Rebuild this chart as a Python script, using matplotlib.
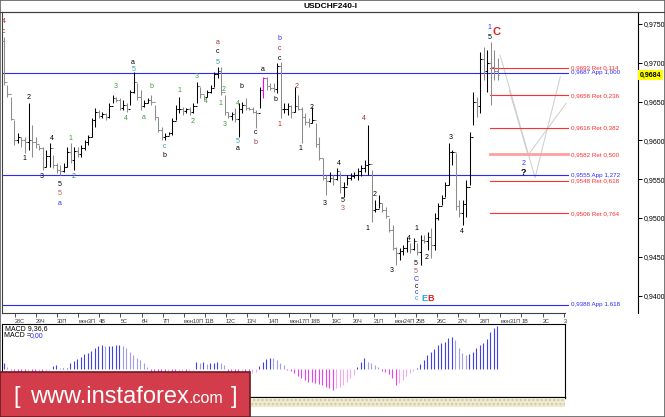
import matplotlib
matplotlib.use('Agg')
import matplotlib.pyplot as plt
from matplotlib.patches import Rectangle
from matplotlib.lines import Line2D
from matplotlib.transforms import blended_transform_factory

plt.rcParams['font.family'] = ['Liberation Sans', 'DejaVu Sans']

# ---- price bars (4h) ----
highs = [
    .9733, .9671, .9656, .9626, .9610, .9604, .9604, .9648, .9620, .9604,
    .9594, .9591, .9588, .9597, .9581, .9571, .9568, .9571, .9591, .9597,
    .9591, .9591, .9594, .9601, .9607, .9629, .9642, .9639, .9637, .9635,
    .9648, .9659, .9656, .9655, .9652, .9648, .9665, .9688, .9674, .9665,
    .9652, .9655, .9659, .9646, .9630, .9617, .9610, .9611, .9629, .9646,
    .9656, .9643, .9642, .9643, .9648, .9675, .9669, .9659, .9665, .9671,
    .9688, .9695, .9695, .9659, .9637, .9637, .9642, .9648, .9650, .9655,
    .9643, .9643, .9639, .9669, .9682, .9682, .9674, .9674, .9700, .9701,
    .9648, .9648, .9646, .9669, .9659, .9643, .9635, .9629, .9643, .9622,
    .9604, .9577, .9555, .9559, .9555, .9564, .9559, .9546, .9555, .9558,
    .9559, .9564, .9568, .9575, .9620, .9562, .9523, .9530, .9519, .9514,
    .9500, .9491, .9463, .9461, .9465, .9476, .9468, .9474, .9468, .9478,
    .9478, .9482, .9487, .9506, .9519, .9530, .9546, .9597, .9588, .9584,
    .9523, .9523, .9549, .9611, .9662, .9656, .9714, .9720, .9716, .9727,
    .9716, .9706]
lows = [
    .9671, .9656, .9626, .9594, .9597, .9591, .9584, .9588, .9579, .9590,
    .9588, .9562, .9566, .9566, .9564, .9558, .9555, .9559, .9566, .9571,
    .9562, .9579, .9579, .9588, .9594, .9604, .9617, .9629, .9629, .9626,
    .9629, .9648, .9650, .9639, .9639, .9637, .9646, .9661, .9652, .9639,
    .9643, .9648, .9646, .9626, .9611, .9601, .9601, .9607, .9607, .9626,
    .9635, .9633, .9635, .9633, .9635, .9648, .9655, .9652, .9656, .9661,
    .9669, .9680, .9659, .9633, .9629, .9626, .9624, .9604, .9635, .9639,
    .9639, .9635, .9616, .9642, .9655, .9665, .9665, .9662, .9661, .9629,
    .9635, .9633, .9629, .9637, .9639, .9597, .9620, .9617, .9622, .9591,
    .9575, .9549, .9530, .9546, .9543, .9549, .9532, .9527, .9543, .9549,
    .9552, .9549, .9554, .9559, .9555, .9495, .9508, .9513, .9508, .9500,
    .9482, .9459, .9439, .9446, .9452, .9456, .9455, .9459, .9452, .9440,
    .9468, .9459, .9448, .9459, .9497, .9517, .9527, .9543, .9568, .9510,
    .9501, .9491, .9501, .9543, .9620, .9630, .9635, .9678, .9662, .9646,
    .9678, .9678]
closes = [
    .9675, .9660, .9628, .9600, .9605, .9600, .9598, .9600, .9598, .9595,
    .9590, .9566, .9580, .9590, .9568, .9562, .9560, .9566, .9585, .9575,
    .9586, .9583, .9590, .9598, .9604, .9626, .9636, .9632, .9634, .9630,
    .9645, .9655, .9652, .9642, .9646, .9640, .9662, .9675, .9656, .9645,
    .9648, .9652, .9650, .9630, .9614, .9604, .9606, .9609, .9625, .9640,
    .9640, .9638, .9640, .9636, .9645, .9670, .9660, .9656, .9662, .9668,
    .9685, .9690, .9662, .9636, .9632, .9634, .9628, .9640, .9646, .9642,
    .9641, .9637, .9635, .9665, .9680, .9670, .9668, .9666, .9696, .9640,
    .9640, .9644, .9636, .9645, .9641, .9630, .9624, .9622, .9626, .9595,
    .9578, .9552, .9548, .9552, .9550, .9560, .9540, .9540, .9552, .9554,
    .9556, .9560, .9565, .9568, .9570, .9510, .9512, .9520, .9510, .9503,
    .9485, .9462, .9455, .9458, .9462, .9470, .9460, .9470, .9456, .9472,
    .9470, .9475, .9465, .9500, .9515, .9526, .9542, .9585, .9585, .9515,
    .9506, .9518, .9540, .9605, .9650, .9645, .9705, .9690, .9700, .9695,
    .9690, .9684]
first_open = 0.9728
marked_bar = 74          # the bar drawn in magenta
last_price = 0.9684

# MACD(9,36,6) histogram, in 1e-5 units
macd_hist = [
    6, 2, -1, -2, -2.5, -2.5, -3, -2.5, -2.5, -3, -2.5, -2.5, -2, -1,
    3.3, 4.3, 1, 1, 1.5, 6, 8.7, 10.3, 12.7, 15.3, 16.7, 18.7, 21, 23.7,
    24.3, 23.7, 23.7, 23.7, 24.3, 24.3, 23.7, 21, 17.7, 14.3, 11, 9.3, 6, 2.7,
    -1.5, -2, -2.5, -3, -3, -2.5, -3, -3, -2.5, -2, -2.5, -2, -1,
    7, 6.7, 7.7, 5.3, 6, 6.7, 7, 6, 4.3,
    -2, -3, -3.5, -4, -3.5, -4, -10.7, -4, -3,
    3.3, 7.7, 10.3, 11.7, 11, 9.3, 6, 4.3,
    -1, -2, -4, -7, -9, -10.7, -12.3, -13, -14, -14.7, -16, -17.3, -19,
    -20.7, -19, -17.3, -15.7, -12.3, -9, -5.7,
    2.7, 7.7, 11, 7.7, 6, 4.3, 2,
    -1.3, -2.3, -5, -9, -15.7, -14, -11, -7, -4, -2,
    1, 5, 9.3, 14.3, 17, 20, 24.3, 26, 27.7, 31, 32, 29.3, 21, 16, 14.3,
    15, 17.7, 21, 24.3, 26, 30, 37.7, 41, 43.7]

date_labels = ['28С', '29Ч', '30П', 'мон3П', '4В', '5С', '6Ч', '7П', 'мон10П',
               '11В', '12С', '13Ч', '14П', 'мон17П', '18В', '19С', '20Ч', '21П',
               'мон24П', '25В', '26С', '27Ч', '28П', 'мон31П', '1В', '2С', '3']
price_ticks = [0.9400, 0.9450, 0.9500, 0.9550, 0.9600, 0.9650, 0.9700, 0.9750]

app_levels = [0.9687, 0.9555, 0.9388]
app_names = ['App 1,000', 'App 1,272', 'App 1.618']
ret_levels = [0.9693, 0.9658, 0.9616, 0.9582, 0.9548, 0.9506]
ret_names = ['Ret 0,114', 'Ret 0,236', 'Ret 0,382', 'Ret 0,500', 'Ret 0,618', 'Ret 0,764']

# projected paths (light gray V shapes)
proj_a_x = [141.7, 151.7, 158.9]
proj_a_y = [0.9710, 0.9552, 0.9682]
proj_b_x = [144.3, 149.7, 160.6]
proj_b_y = [0.9665, 0.9581, 0.9648]

K, G, T, DR, BR, BL, R, CY, GR = ('#000000', '#3c9a3c', '#2aa0a0', '#a03232',
                                  '#b45a46', '#3030ff', '#e02020', '#20a8e0', '#505050')
# (bar index, price, text, colour)
wave_labels = [
    (0, .9753, '4', DR), (0, .9741, 'c', GR),
    (6.9, .9655, '2', K), (5.8, .9577, '1', K), (10.9, .9553, '3', K), (13.8, .9603, '4', K),
    (15.8, .9543, '5', K), (15.8, .9532, '5', BR), (15.8, .9519, 'a', BL),
    (18.9, .9603, '1', G), (20, .9553, '2', G),
    (31.9, .9669, '3', G), (34.9, .9628, '4', G), (36.9, .9701, 'a', K), (36.9, .9692, '5', T),
    (40, .9630, 'a', G), (42, .9669, 'b', G),
    (45.8, .9592, 'c', T), (45.8, .9580, 'b', K),
    (50, .9664, '1', G), (53.8, .9624, '2', G), (54.9, .9682, '3', G), (57.7, .9650, '4', G),
    (60.9, .9726, 'a', DR), (60.9, .9714, 'c', K), (60.9, .9701, '5', T),
    (62.8, .9666, '2', G), (61.9, .9648, '1', G), (62.9, .9620, '3', G),
    (66.8, .9648, '4', G), (66.8, .9599, '5', T), (66.8, .9590, 'a', K),
    (67.9, .9669, 'b', K),
    (71.7, .9610, 'c', K), (71.7, .9597, 'b', DR),
    (73.8, .9692, 'a', K), (77.6, .9653, 'b', K),
    (78.7, .9731, 'b', BL), (78.7, .9719, 'c', DR), (78.7, .9706, 'c', K),
    (78.7, .9621, '1', R), (83.6, .9669, '2', DR),
    (84.8, .9589, '1', K), (87.8, .9643, '2', K), (91.7, .9519, '3', K),
    (95.7, .9570, '4', K), (96.8, .9523, '5', K), (96.8, .9512, '3', BR),
    (102.7, .9628, '4', DR),
    (103.8, .9487, '1', K), (105.8, .9530, '2', K), (110.8, .9432, '3', K),
    (115.7, .9474, '4', K), (117.7, .9487, '1', K),
    (117.7, .9441, '5', K), (117.7, .9431, '5', BR), (117.7, .9421, 'C', BL),
    (117.7, .9412, 'c', K), (117.7, .9404, 'c', BL), (117.7, .9396, 'c', CY),
    (120.8, .9449, '2', K), (127.7, .9604, '3', K), (130.9, .9482, '4', K),
    (138.7, .9746, '1', BL), (138.7, .9732, '5', K),
    (148.4, .9570, '2', BL),
]
big_labels = [(120.0, .9396, 'E', CY, 6.5), (122.0, .9396, 'B', R, 6.5),
              (140.8, .9740, 'C', R, 8), (148.4, .9559, '?', K, 6.5)]

W, H = 665, 417


def fx(px):
    return px / W


def fy(py):
    return 1 - py / H


fig = plt.figure(figsize=(W / 100, H / 100), dpi=100)
fig.patch.set_facecolor('white')

# ---- main price panel ----
ax = fig.add_axes([fx(2), fy(312.7), fx(636), 300.7 / H])
ax.set_xlim(-0.57, 181.1)
ax.set_ylim(0.93780, 0.97655)

n = len(closes)
idx = list(range(n))
opens = [first_open] + closes[:-1]
cols = ['#000000' if c >= o else '#8c8c8c' for o, c in zip(opens, closes)]
cols[marked_bar] = '#ff00ff'
ax.vlines(idx, lows, highs, colors=cols, lw=0.75, zorder=3)
ax.hlines(opens, [i - 0.5 for i in idx], idx, colors=cols, lw=0.75, zorder=3)
ax.hlines(closes, idx, [i + 0.5 for i in idx], colors=cols, lw=0.75, zorder=3)

x_end = 161.1
x_ret = 138.9
for lvl, name in zip(app_levels, app_names):
    ax.plot([-0.57, x_end], [lvl, lvl], color='#2a2aff', lw=0.8, zorder=2)
    ax.text(x_end + 1.0, lvl, f'{lvl:.4f}'.replace('.', ',') + ' ' + name,
            color='#2a2aff', fontsize=4.5, va='center')
for lvl, name in zip(ret_levels, ret_names):
    mid = name.endswith('0,500')
    ax.plot([x_ret, x_end], [lvl, lvl], color='#ffa0a0' if mid else '#ff3030',
            lw=2.0 if mid else 0.8, zorder=2)
    ax.text(x_end + 1.0, lvl, f'{lvl:.4f}'.replace('.', ',') + ' ' + name,
            color='#ff2a2a', fontsize=4.5, va='center')

ax.plot(proj_a_x, proj_a_y, color='#cccccc', lw=0.7, zorder=1)
ax.plot(proj_b_x, proj_b_y, color='#cccccc', lw=0.7, zorder=1)

for x, y, s, c in wave_labels:
    ax.text(x, y, s, color=c, fontsize=5, ha='center', va='center', zorder=4)
for x, y, s, c, fs in big_labels:
    ax.text(x, y, s, color=c, fontsize=fs, ha='center', va='center',
            weight='bold', zorder=4)

# axes, ticks
ax.yaxis.tick_right()
ax.set_yticks(price_ticks)
ax.set_yticklabels([f'{p:.4f}'.replace('.', ',') for p in price_ticks])
ax.tick_params(axis='y', labelsize=5, length=3, pad=1, width=0.7)
date_pos = [3.1 + 6.03 * k for k in range(len(date_labels))]
ax.set_xticks(date_pos)
ax.set_xticklabels(date_labels, ha='left', fontsize=4)
ax.tick_params(axis='x', length=3, pad=1.5, width=0.6, colors='#333333')
for side in ['left', 'top', 'bottom']:
    ax.spines[side].set_color('#404040')
    ax.spines[side].set_linewidth(0.8)
ax.spines['right'].set_color('black')
ax.spines['right'].set_linewidth(0.8)
ax.spines['bottom'].set_bounds(-0.57, 160.3)

tr = blended_transform_factory(ax.transAxes, ax.transData)
ax.text(1.003, last_price, f'{last_price:.4f}'.replace('.', ','), transform=tr,
        fontsize=5, va='center', ha='left', weight='bold',
        bbox=dict(fc='#ffff00', ec='none', pad=1.2))

# title bar
fig.text(fx(331), fy(6), 'USDCHF240-I', ha='center', va='center',
         fontsize=6, weight='bold')
fig.add_artist(Line2D([0, 1], [fy(11.5), fy(11.5)], transform=fig.transFigure,
                      color='#404040', lw=0.8))

# ---- MACD panel ----
axm = fig.add_axes([fx(2), fy(397.7), fx(563), 74 / H])
axm.set_xlim(-0.57, 160.3)
axm.set_ylim(-28.4, 45.6)
hcols = []
for i, v in enumerate(macd_hist):
    prev = macd_hist[i - 1] if i else v
    if v >= 0:
        hcols.append('#4040ee' if v >= prev else '#a0a0e8')
    else:
        hcols.append('#ee40ee' if v <= prev else '#f5a8f5')
axm.vlines(idx, 0, macd_hist, colors=hcols, lw=0.8)
axm.set_xticks([])
axm.set_yticks([])
for side in axm.spines:
    axm.spines[side].set_color('black')
    axm.spines[side].set_linewidth(0.8)
axm.spines['bottom'].set_linewidth(1.6)
axm.text(0.006, 0.94, 'MACD 9,36,6', transform=axm.transAxes, fontsize=5,
         va='center', ha='left')
axm.text(0.003, 0.835, 'MACD =', transform=axm.transAxes, fontsize=5,
         va='center', ha='left')
axm.text(0.05, 0.835, '0,00', transform=axm.transAxes, fontsize=5,
         va='center', ha='left', color='#2a2aff')

# dotted strip under the indicator
fig.add_artist(Rectangle((fx(250), fy(407)), fx(315), 9 / H, transform=fig.transFigure,
                         fc='#efe9d2', ec='#d2c79c', hatch='....', lw=0))

# outer frame
fig.add_artist(Rectangle((0, 0), 1, 1, transform=fig.transFigure, fill=False,
                         ec='#606060', lw=1.2))

# ---- banner ----
fig.add_artist(Rectangle((0, 0), fx(250), 45 / H, transform=fig.transFigure,
                         fc='#d33d4b', ec='#6b1b22', lw=1.2, zorder=10))
fig.text(fx(13), fy(403), '[', color='white', fontsize=17, va='baseline',
         zorder=11)
t1 = fig.text(fx(30), fy(403), 'www.instaforex', color='white', fontsize=17,
              va='baseline', zorder=11)
fig.canvas.draw()
bb = t1.get_window_extent()
fig.text(bb.x1 / fig.bbox.width, fy(403), '.com', color='white', fontsize=11.5,
         va='baseline', zorder=11)
fig.text(fx(231), fy(403), ']', color='white', fontsize=17, va='baseline',
         zorder=11)

fig.savefig('out.png', dpi=100)
